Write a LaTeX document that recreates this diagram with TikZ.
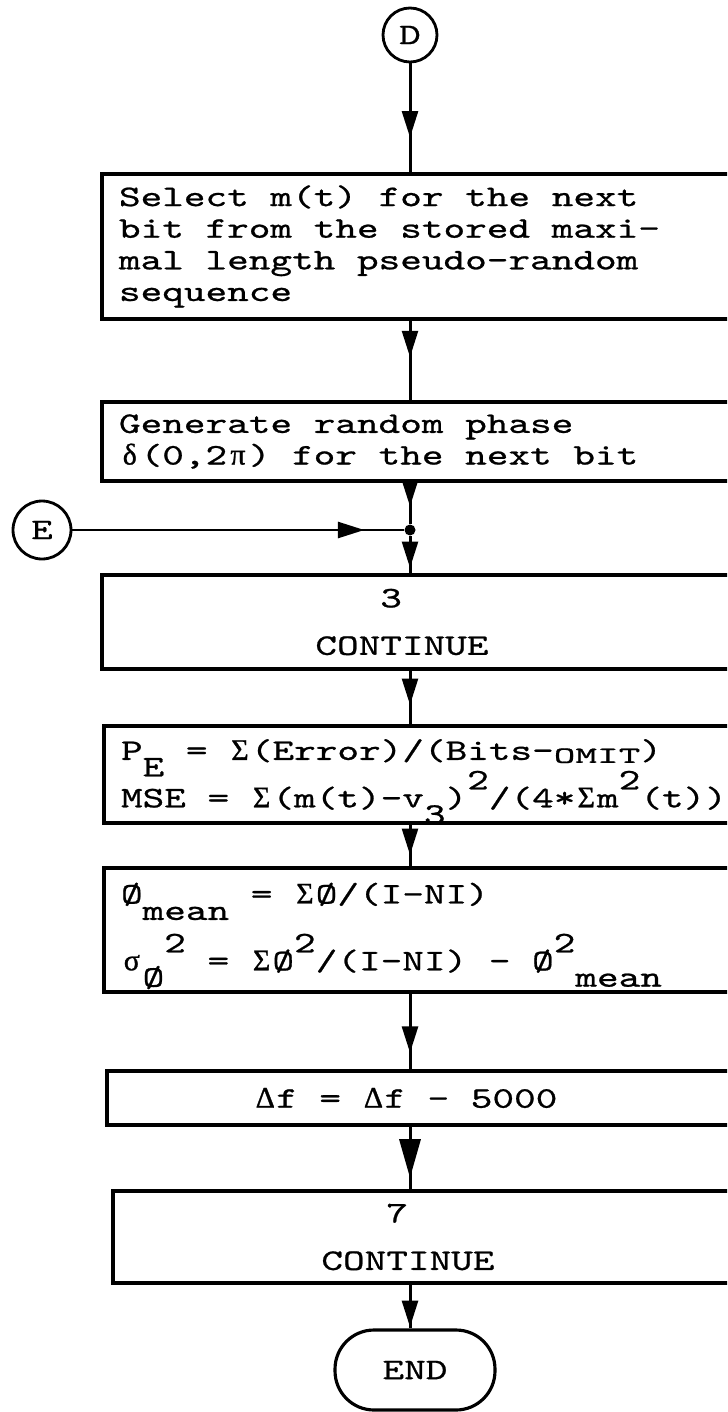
\documentclass[tikz,border=0pt]{standalone}
\usepackage{fontspec}
\usepackage{graphicx}
\newfontfamily\typewriter{lmmono10-regular.otf}[FakeStretch=1.38, FakeBold=0.8]
\newfontfamily\greekfont{Liberation Serif}[FakeBold=1]
\usepackage{tikz}
\usetikzlibrary{arrows.meta, decorations.markings, positioning}
\newcommand{\twfont}{\typewriter\fontsize{17}{18}\selectfont}
\newcommand{\tsp}{\hspace*{0.7245em}}
\newcommand{\typesub}[1]{\raisebox{-0.55em}[0pt][0pt]{#1}}
\newcommand{\typesup}[1]{\raisebox{0.6em}[0pt][0pt]{#1}}
\newcommand{\midtext}[2]{\makebox[#1][c]{#2}}
\newcommand{\gk}[1]{\makebox[0.7245em][c]{\greekfont #1}}

\begin{document}
\begin{tikzpicture}[x=0.02cm, y=-0.02cm,
    every node/.style={font=\twfont},
    procbox/.style={draw, rectangle, line width=2.2pt, outer sep=0pt, inner xsep=0.34cm, inner ysep=0pt,
        anchor=north west, minimum width=14cm, text width=13.32cm, align=left},
    connector/.style={draw, circle, line width=1.6pt, inner sep=0pt, minimum size=1.08cm},
    terminal/.style={draw, rectangle, rounded corners=0.78cm, line width=1.8pt, minimum width=3.2cm, minimum height=1.6cm},
    junction/.style={fill, circle, inner sep=0pt, minimum size=0.22cm},
    flow/.style={line width=1.7pt},
    arrowat/.style={postaction={decorate, decoration={markings,
        mark=at position #1 with {\arrow{Triangle[length=15pt, width=9pt]}}}}},
    bigarrowat/.style={postaction={decorate, decoration={markings,
        mark=at position #1 with {\arrow{Triangle[length=22pt, width=12pt]}}}}}]
    \useasboundingbox (0,0) rectangle (727,1412);
    \clip (0,0) rectangle (727,1412);
    % Connectors and process boxes
    \node[connector] (conD) at (410,35) {D};
    \node[procbox, minimum height=2.9cm] (select) at (102,174)
        {Select\tsp m(t)\tsp for\tsp the\tsp next\\bit\tsp from\tsp the\tsp stored\tsp maxi-\\mal\tsp length\tsp pseudo-random\\sequence};
    \node[procbox, minimum height=1.58cm] (phase) at (102,402)
        {Generate\tsp random\tsp phase\\\gk{δ}(0,2\gk{π})\tsp for\tsp the\tsp next\tsp bit};
    \node[junction] (junc) at (410,530) {};
    \node[connector, minimum size=1.16cm] (conE) at (42,530) {E};
    \node[procbox, minimum height=1.88cm] (cont3) at (102,575)
        {\midtext{11.32cm}{\phantom{CON}3\phantom{INUE}}\\[9pt]\midtext{11.32cm}{CONTINUE}};
    \node[procbox, minimum height=1.94cm] (errstat) at (104,726)
        {P\typesub{E}\tsp=\tsp\gk{Σ}(Error)/(Bits-\raisebox{-0.1em}{\scalebox{1}[0.78]{OMIT}})\\[9pt]MSE\tsp=\tsp\gk{Σ}(m(t)-v\typesub{3})\typesup{2}/(4*\gk{Σ}m\typesup{2}(t))};
    \node[procbox, minimum height=2.48cm] (phistat) at (104,868)
        {Ø\typesub{mean}\tsp=\tsp\gk{Σ}Ø/(I-NI)\\[20pt]\gk{σ}\typesub{Ø}\typesup{2}\tsp=\tsp\gk{Σ}Ø\typesup{2}/(I-NI)\tsp-\tsp Ø\typesup{2}\typesub{mean}\rule[-4pt]{0pt}{0pt}};
    \node[procbox, minimum height=1.08cm] (dfreq) at (107,1071)
        {\midtext{11.28cm}{\gk{Δ}f\tsp=\tsp\gk{Δ}f\tsp-\tsp 5000}};
    \node[procbox, minimum height=1.84cm] (cont7) at (113,1191)
        {\midtext{11.12cm}{\phantom{CON}7\phantom{INUE}}\\[9pt]\midtext{11.12cm}{CONTINUE}};
    \node[terminal] (stop) at (415,1370) {END};
    % Flow lines with arrowheads part way along
    \foreach \a/\b/\p in {conD/select/0.67, select/phase/0.46, phase/junc/0.59, junc/cont3/0.82,
        cont3/errstat/0.63, errstat/phistat/0.71, phistat/dfreq/0.77, cont7/stop/0.97} {
        \draw[flow, arrowat=\p] (\a.south -| conD) -- (\b.north -| conD);
    }
    \draw[flow, bigarrowat=0.8] (dfreq.south -| conD) -- (cont7.north -| conD);
    \draw[flow, arrowat=0.88] (conE) -- (junc);
\end{tikzpicture}
\end{document}
